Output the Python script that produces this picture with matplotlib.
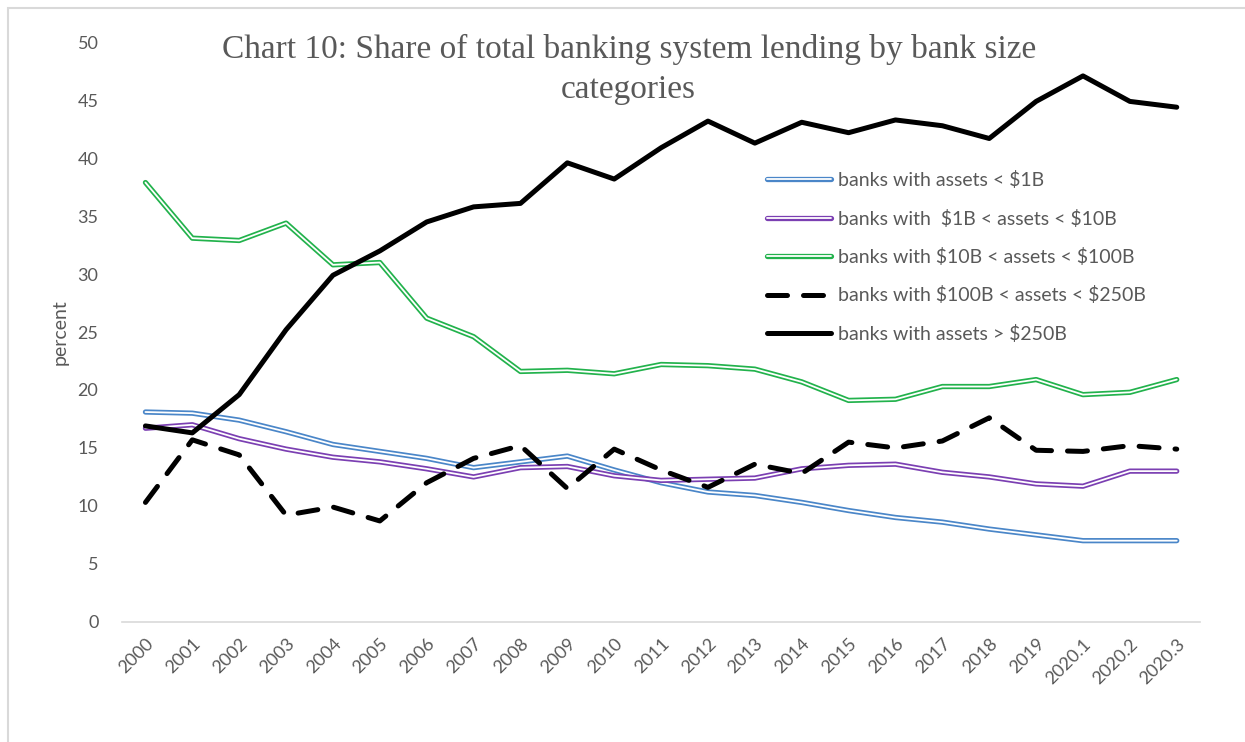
#!/usr/bin/env python3
"""
    Chart 10: share of total banking system lending by bank size categories
"""

import numpy as np
from matplotlib import pyplot as plt
from matplotlib import patheffects as pe
from matplotlib.patches import Rectangle

years = ['2000', '2001', '2002', '2003', '2004', '2005', '2006', '2007',
         '2008', '2009', '2010', '2011', '2012', '2013', '2014', '2015',
         '2016', '2017', '2018', '2019', '2020.1', '2020.2', '2020.3']

lt_1b = [18.1, 18.0, 17.4, 16.4, 15.3, 14.7, 14.1, 13.3, 13.8, 14.3, 13.1, 12.0,
         11.2, 10.9, 10.3, 9.6, 9.0, 8.6, 8.0, 7.5, 7.0, 7.0, 7.0]
b1_10 = [16.7, 17.0, 15.8, 14.9, 14.2, 13.8, 13.2, 12.5, 13.3, 13.4, 12.6, 12.2,
         12.3, 12.4, 13.2, 13.5, 13.6, 12.9, 12.5, 11.9, 11.7, 13.0, 13.0]
b10_100 = [37.9, 33.1, 32.9, 34.4, 30.8, 31.0, 26.2, 24.6, 21.6, 21.7, 21.4, 22.2,
           22.1, 21.8, 20.7, 19.1, 19.2, 20.3, 20.3, 20.9, 19.6, 19.8, 20.9]
b100_250 = [10.3, 15.7, 14.4, 9.2, 9.9, 8.7, 12.0, 14.1, 15.2, 11.5, 14.9, 13.1,
            11.6, 13.6, 12.8, 15.5, 15.0, 15.6, 17.6, 14.8, 14.7, 15.2, 14.9]
gt_250 = [16.9, 16.3, 19.6, 25.2, 29.9, 32.0, 34.5, 35.8, 36.1, 39.6, 38.2, 40.9,
          43.2, 41.3, 43.1, 42.2, 43.3, 42.8, 41.7, 44.9, 47.1, 44.9, 44.4]

labels = [r'banks with assets < \$1B',
          r'banks with  \$1B < assets < \$10B',
          r'banks with \$10B < assets < \$100B',
          r'banks with \$100B < assets < \$250B',
          r'banks with assets > \$250B']

GRAY = '#595959'
plt.rcParams['font.family'] = ['Lato', 'DejaVu Sans']

fig = plt.figure(figsize=(12.45, 7.42), dpi=100)
ax = fig.add_axes([0.098, 0.162, 0.866, 0.781])

x = np.arange(len(years))

# Excel style "double" lines: colored stroke with a white core
for vals, col, lab in zip([lt_1b, b1_10, b10_100],
                          ['#4a86c8', '#7b3fb2', '#22b24c'], labels[:3]):
    ax.plot(x, vals, color='white', lw=1.3, label=lab,
            solid_capstyle='round', solid_joinstyle='round',
            path_effects=[pe.Stroke(linewidth=3.8, foreground=col,
                                    capstyle='round', joinstyle='round'),
                          pe.Normal()])

ax.plot(x, b100_250, color='black', lw=3.6, dashes=(4.0, 3.2),
        dash_capstyle='round', label=labels[3])
ax.plot(x, gt_250, color='black', lw=3.6, solid_capstyle='round',
        solid_joinstyle='round', label=labels[4])

ax.set_xlim(-0.5, len(years) - 0.5)
ax.set_ylim(0, 50)
ax.set_yticks(range(0, 51, 5))
ax.set_xticks(x)
ax.set_xticklabels(years, rotation=45, ha='right', rotation_mode='anchor')
ax.tick_params(axis='both', length=0, labelsize=13, labelcolor=GRAY)
ax.tick_params(axis='y', pad=17)
ax.tick_params(axis='x', pad=10)

for s in ['top', 'right', 'left']:
    ax.spines[s].set_visible(False)
ax.spines['bottom'].set_color('#d9d9d9')
ax.spines['bottom'].set_linewidth(1.2)

ax.set_ylabel('percent', fontsize=14, color=GRAY, labelpad=6)

fig.text(0.505, 0.954,
         'Chart 10: Share of total banking system lending by bank size\ncategories',
         ha='center', va='top', multialignment='center',
         fontsize=24, color=GRAY, family='Liberation Serif', linespacing=1.38)

ax.legend(loc='upper left', bbox_to_anchor=(0.602, 0.793),
          bbox_transform=fig.transFigure, frameon=False, fontsize=14,
          labelcolor=GRAY, handlelength=3.3, handletextpad=0.35,
          labelspacing=1.05)

# light frame of the chart object
fig.patches.append(Rectangle((8 / 1245, -0.1), 1.2, 1.1 - 8 / 742,
                             transform=fig.transFigure, fill=False,
                             edgecolor='#d9d9d9', lw=1.5))

fig.savefig('out.png', dpi=100)
